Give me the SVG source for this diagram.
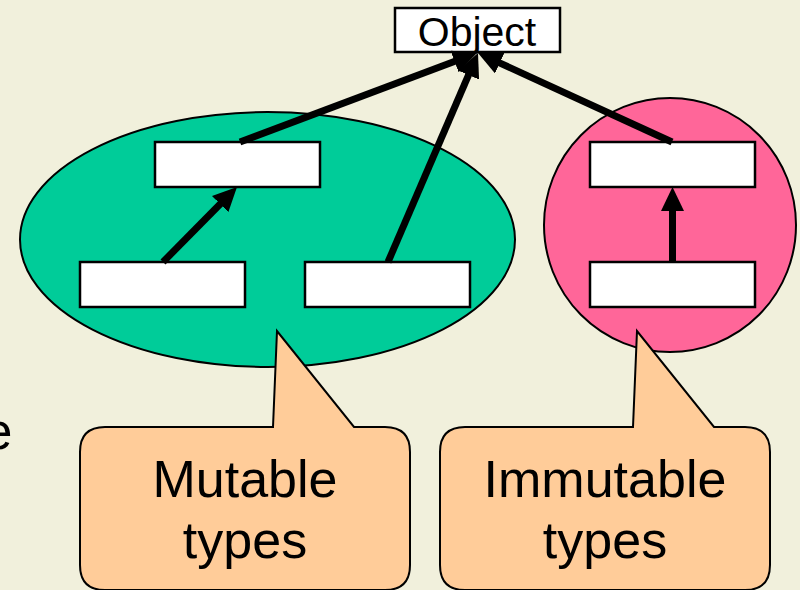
<svg xmlns="http://www.w3.org/2000/svg" width="800" height="590" viewBox="0 0 800 590">
  <defs>
    <style>
      .box { fill: #FFFFFF; stroke: #000000; stroke-width: 2.5; }
      .group-shape { stroke: #000000; stroke-width: 2; }
      .callout { fill: #FFCC99; stroke: #000000; stroke-width: 2; stroke-linejoin: miter; }
      .edge { stroke: #000000; stroke-width: 7; fill: none; stroke-linecap: butt; marker-end: url(#head); }
      .label { font-family: "Liberation Sans", Arial, sans-serif; fill: #000000; text-anchor: middle; }
    </style>
    <marker id="head" viewBox="0 0 24 23" markerUnits="userSpaceOnUse" markerWidth="24" markerHeight="23" refX="4" refY="11.5" orient="auto">
      <path d="M0,0 L24,11.5 L0,23 Z" fill="#000000"/>
    </marker>
  </defs>

  <!-- page background -->
  <rect x="0" y="0" width="800" height="590" fill="#F1F0DC"/>

  <!-- partial slide text at the left margin -->
  <text class="label" x="12.5" y="449" font-size="52" style="text-anchor:end">e</text>

  <!-- grouping shapes -->
  <g id="mutable-group">
    <ellipse class="group-shape" cx="267.5" cy="239.5" rx="247.5" ry="127.5" fill="#00CC99"/>
  </g>
  <g id="immutable-group">
    <ellipse class="group-shape" cx="670" cy="225" rx="126" ry="127" fill="#FF6699"/>
  </g>

  <!-- callouts -->
  <g id="callout-mutable">
    <path class="callout" d="M105,427 L273,427 L277,331 L354,427 L385,427 Q410,427 410,452 L410,565 Q410,590 385,590 L105,590 Q80,590 80,565 L80,452 Q80,427 105,427 Z"/>
    <text class="label" x="245" y="497" font-size="52">Mutable</text>
    <text class="label" x="245" y="558" font-size="52">types</text>
  </g>
  <g id="callout-immutable">
    <path class="callout" d="M465,427 L633,427 L637,331 L714,427 L745,427 Q770,427 770,452 L770,565 Q770,590 745,590 L465,590 Q440,590 440,565 L440,452 Q440,427 465,427 Z"/>
    <text class="label" x="605" y="497" font-size="52">Immutable</text>
    <text class="label" x="605" y="558" font-size="52">types</text>
  </g>

  <!-- nodes -->
  <g id="object">
    <rect class="box" x="395" y="8" width="165" height="44"/>
    <text class="label" x="477" y="46" font-size="41">Object</text>
  </g>
  <g id="mutable-parent">
    <rect class="box" x="155" y="142" width="165" height="45"/>
  </g>
  <g id="mutable-child-left">
    <rect class="box" x="80" y="262" width="165" height="45"/>
  </g>
  <g id="mutable-child-right">
    <rect class="box" x="305" y="262" width="165" height="45"/>
  </g>
  <g id="immutable-parent">
    <rect class="box" x="590" y="142" width="165" height="45"/>
  </g>
  <g id="immutable-child">
    <rect class="box" x="590" y="262" width="165" height="45"/>
  </g>

  <!-- connectors -->
  <g id="connectors">
    <line class="edge" x1="163" y1="262" x2="222.96" y2="201.23"/>
    <line class="edge" x1="240" y1="142" x2="458.28" y2="60.03"/>
    <line class="edge" x1="388" y1="262" x2="470.09" y2="71.37"/>
    <line class="edge" x1="672" y1="142" x2="496.18" y2="61.34"/>
    <line class="edge" x1="672.5" y1="262" x2="672.5" y2="207"/>
  </g>
</svg>
